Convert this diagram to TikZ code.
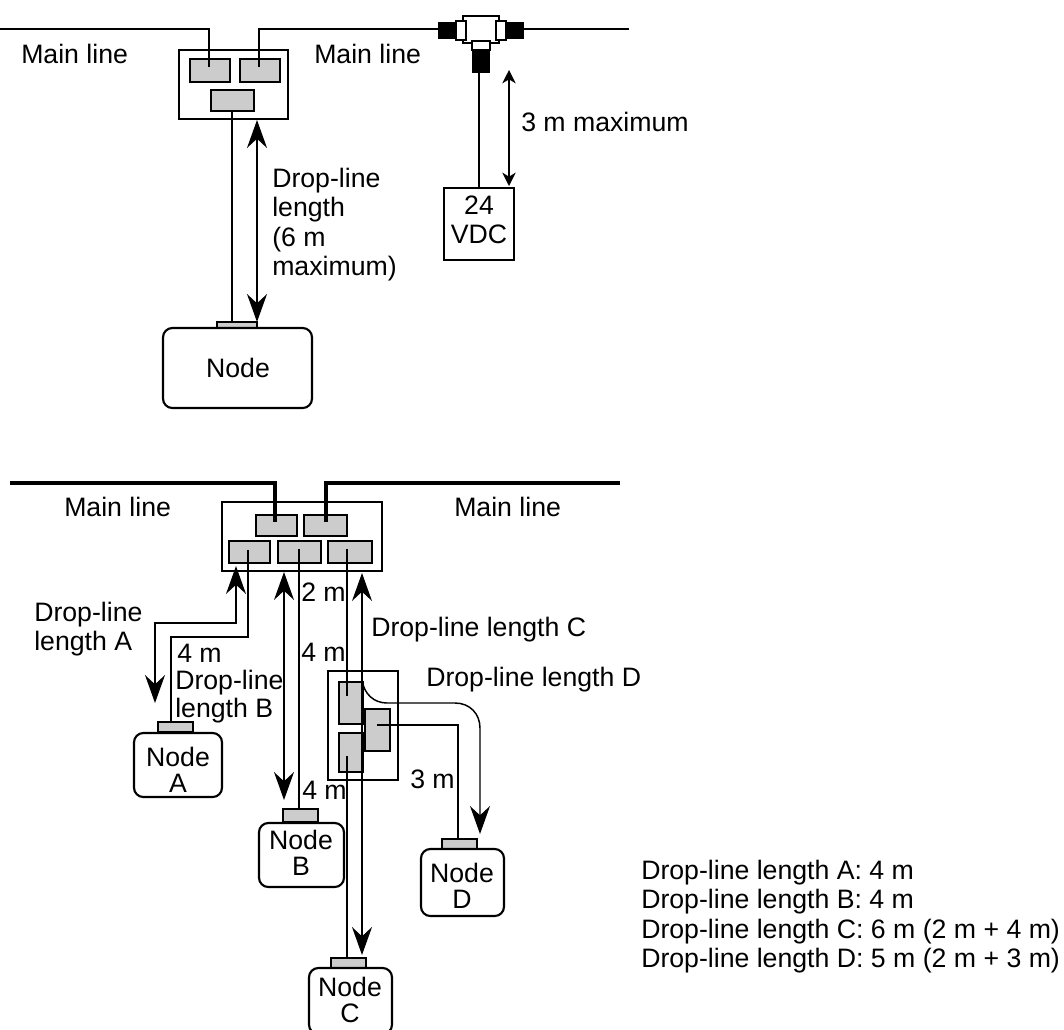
\documentclass[tikz,border=0pt]{standalone}
\usepackage{fontspec}
\setmainfont{Liberation Sans}
\usetikzlibrary{arrows.meta,fit}

\begin{document}
\begin{tikzpicture}[
    x=0.75pt,y=-0.75pt,
    every node/.style={font=\fontsize{20}{19.5}\selectfont},
    label/.style={anchor=base west,inner sep=0pt,align=left},
    nodetext/.style={inner sep=0pt,align=center},
    boxline/.style={draw,line width=1.6pt,inner sep=0pt},
    unit/.style={boxline},
    port/.style={boxline,fill=black!20},
    endnode/.style={boxline,rounded corners=7pt},
    plug/.style={draw,line width=1.3pt,inner sep=0pt,fill=black},
    line/.style={line width=1.7pt},
    mainline/.style={line width=2.6pt},
    size/.style={line width=1.1pt,{Stealth[length=10pt,width=10pt,inset=3pt]}-{Stealth[length=10pt,width=10pt,inset=3pt]}},
    bigsize/.style={line width=1.1pt,{Stealth[length=21pt,width=15pt,inset=7pt]}-{Stealth[length=21pt,width=15pt,inset=7pt]}}
]
\clip (0,0) rectangle (1064,1029);
\useasboundingbox (0,0) rectangle (1064,1029);

% Top unit
\node[unit,fit={(179,50) (288,119)}] (tbox) {};
\node[port,fit={(190,59) (230,82)}] (t1) {};
\node[port,fit={(240,59) (280,82)}] (t2) {};
\node[port,fit={(211,90) (254,111)}] (t3) {};

% T-branch
\node[boxline,fit={(463,16) (499,43)}] (tee) {};
\node[boxline,fill=white,fit={(456,21) (466,40)}] (teel) {};
\node[boxline,fill=white,fit={(496,21) (506,40)}] (teer) {};
\node[boxline,fill=white,fit={(472,41) (490,50)}] (teed) {};
\node[plug,fit={(439,23) (455,38)}] (plugl) {};
\node[plug,fit={(507,23) (523,38)}] (plugr) {};
\node[plug,fit={(473,51) (489,72)}] (plugd) {};

% Top nodes
\node[port,fit={(217,322) (257,328)}] (tp) {};
\node[endnode,fit={(163,328) (312,408)}] (tnode) {};
\node[nodetext] (tnodetext) at (238,368) {Node};
\node[boxline,fit={(444,188) (514,260)}] (vdc) {};
\node[nodetext,anchor=base] (v1) at (479,214) {24};
\node[nodetext,anchor=base] (v2) at (479,243) {VDC};

% Top wires
\coordinate (m1) at (0,29);
\coordinate (m2) at (209,29);
\coordinate (m3) at (259,29);
\coordinate (m4) at (629,29);
\coordinate (t1c) at (209,67);
\coordinate (t2c) at (259,67);
\coordinate (t3c) at (232,111);
\coordinate (tpc) at (232,322);
\coordinate (pl) at (439,29);
\coordinate (pr) at (523,29);
\coordinate (pd1) at (479,72);
\coordinate (vt) at (479,188);
\draw[line] (m1)--(m2)--(t1c);
\draw[line] (t2c)--(m3)--(pl);
\draw[line] (pr)--(m4);
\draw[line] (t3c)--(tpc);
\draw[line] (pd1)--(vt);

% Top arrows
\coordinate (a1) at (257,120);
\coordinate (a2) at (257,322);
\coordinate (a3) at (509,70);
\coordinate (a4) at (509,186);
\draw[bigsize] (a1)--(a2);
\draw[size] (a3)--(a4);

% Top labels
\node[label] (l1) at (21,63) {Main line};
\node[label] (l2) at (314,63) {Main line};
\node[label] (l3) at (521,131) {3 m maximum};
\node[label] (l4) at (272,187) {Drop-line};
\node[label] (l5) at (272,216) {length};
\node[label] (l6) at (272,246) {(6 m};
\node[label] (l7) at (272,275) {maximum)};

% Bottom unit
\node[unit,fit={(222,502) (382,571)}] (bbox) {};
\node[port,fit={(256,515) (297,536)}] (b1) {};
\node[port,fit={(304,515) (347,536)}] (b2) {};
\node[port,fit={(229,541) (270,563)}] (b3) {};
\node[port,fit={(278,541) (321,563)}] (b4) {};
\node[port,fit={(328,541) (372,563)}] (b5) {};

% Branch unit
\node[unit,fit={(328,671) (398,780)}] (dbox) {};
\node[port,fit={(339,682) (363,724)}] (d1) {};
\node[port,fit={(339,733) (363,772)}] (d2) {};
\node[port,fit={(365,709) (390,751)}] (d3) {};

% Bottom nodes
\node[port,fit={(158,722) (193,732)}] (pa) {};
\node[endnode,fit={(134,733) (222,797)}] (na) {};
\node[nodetext] (natext) at (178,770) {Node\\A};
\node[port,fit={(283,809) (318,822)}] (pb) {};
\node[endnode,fit={(259,823) (344,887)}] (nb) {};
\node[nodetext] (nbtext) at (301,853) {Node\\B};
\node[port,fit={(331,958) (366,968)}] (pc) {};
\node[endnode,fit={(309,968) (392,1034)}] (nc) {};
\node[nodetext] (nctext) at (350,1000) {Node\\C};
\node[port,fit={(442,839) (477,849)}] (pd) {};
\node[endnode,fit={(421,849) (504,916)}] (nd) {};
\node[nodetext] (ndtext) at (462,886) {Node\\D};

% Bottom main line
\coordinate (n1) at (10,483);
\coordinate (n2) at (275,483);
\coordinate (n3) at (326,483);
\coordinate (n4) at (620,483);
\coordinate (b1c) at (275,522);
\coordinate (b2c) at (326,522);
\draw[mainline] (n1)--(n2)--(b1c);
\draw[mainline] (b2c)--(n3)--(n4);

% Drop wires
\coordinate (wa1) at (248,550);
\coordinate (wa2) at (248,637);
\coordinate (wa3) at (171,637);
\coordinate (wa4) at (171,722);
\coordinate (wb1) at (299,549);
\coordinate (wb2) at (299,809);
\coordinate (wc1) at (347,549);
\coordinate (wc2) at (347,696);
\coordinate (wc3) at (347,756);
\coordinate (wc4) at (347,958);
\coordinate (wd1) at (377,725);
\coordinate (wd2) at (458,725);
\coordinate (wd3) at (458,839);
\draw[line] (wa1)--(wa2)--(wa3)--(wa4);
\draw[line] (wb1)--(wb2);
\draw[line] (wc1)--(wc2);
\draw[line] (wc3)--(wc4);
\draw[line] (wd1)--(wd2)--(wd3);

% Drop arrows
\coordinate (aa1) at (236,566);
\coordinate (aa2) at (236,623);
\coordinate (aa3) at (155,623);
\coordinate (aa4) at (155,703);
\coordinate (ab1) at (284,572);
\coordinate (ab2) at (284,800);
\coordinate (ac1) at (362,573);
\coordinate (ac2) at (362,955);
\coordinate (ad1) at (362,680);
\coordinate (ad2) at (455,703);
\coordinate (ad3) at (480,834);
\draw[bigsize] (aa1)--(aa2)--(aa3)--(aa4);
\draw[bigsize] (ab1)--(ab2);
\draw[bigsize] (ac1)--(ac2);
\draw[line width=1.1pt,-{Stealth[length=21pt,width=15pt,inset=7pt]}] (ad1) .. controls (364,694) and (374,703) .. (387,703) -- (ad2) .. controls (470,703) and (480,714) .. (480,728) -- (ad3);

% Bottom labels
\node[label] (s1) at (64,516) {Main line};
\node[label] (s2) at (454,516) {Main line};
\node[label] (s3) at (34,621) {Drop-line};
\node[label] (s4) at (34,650) {length A};
\node[label] (s5) at (177,662) {4 m};
\node[label] (s6) at (175,689) {Drop-line};
\node[label] (s7) at (175,717) {length B};
\node[label] (s8) at (301,601) {2 m};
\node[label] (s9) at (301,661) {4 m};
\node[label] (s10) at (302,799) {4 m};
\node[label] (s11) at (371,636) {Drop-line length C};
\node[label] (s12) at (426,686) {Drop-line length D};
\node[label] (s13) at (410,788) {3 m};

% Lengths
\node[label] (k1) at (641,879) {Drop-line length A: 4 m};
\node[label] (k2) at (641,908) {Drop-line length B: 4 m};
\node[label] (k3) at (641,938) {Drop-line length C: 6 m (2 m + 4 m)};
\node[label] (k4) at (641,967) {Drop-line length D: 5 m (2 m + 3 m)};

\end{tikzpicture}
\end{document}
